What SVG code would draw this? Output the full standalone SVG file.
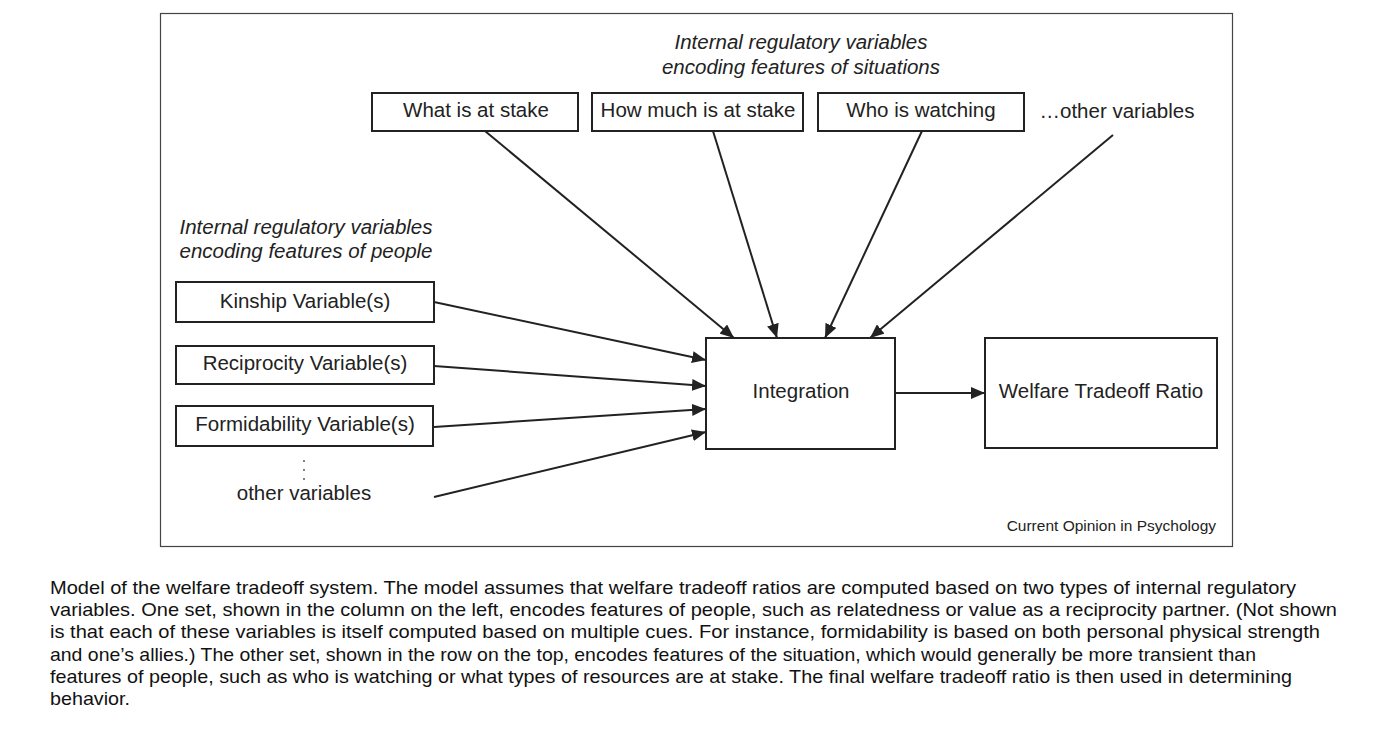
<svg xmlns="http://www.w3.org/2000/svg" width="1378" height="736" viewBox="0 0 1378 736">
<style>
.box{fill:#fff;stroke:#222;stroke-width:2}
.lbl{font-family:"Liberation Sans",Arial,sans-serif;font-size:20.5px;fill:#222;text-anchor:middle}
.it{font-family:"Liberation Sans",Arial,sans-serif;font-size:20.5px;fill:#222;font-style:italic}
.cap{font-family:"Liberation Sans",Arial,sans-serif;font-size:19px;fill:#111}
.con{stroke:#222;stroke-width:2;fill:none;marker-end:url(#ah)}
</style>
<defs>
<marker id="ah" viewBox="0 0 14 12" refX="14" refY="6" markerWidth="14" markerHeight="12" markerUnits="userSpaceOnUse" orient="auto">
<path d="M0,0 L14,6 L0,12 Z" fill="#222"/>
</marker>
</defs>
<rect width="1378" height="736" fill="#fff"/>
<rect id="frame" x="160.5" y="13.5" width="1072" height="533" fill="none" stroke="#444" stroke-width="1.2"/>

<text class="it" x="801" y="49" text-anchor="middle">Internal regulatory variables</text>
<text class="it" x="801" y="74" text-anchor="middle">encoding features of situations</text>
<text class="it" x="306" y="234" text-anchor="middle">Internal regulatory variables</text>
<text class="it" x="306" y="258" text-anchor="middle">encoding features of people</text>

<g id="n-what"><rect class="box" x="372" y="93" width="206" height="38"/><text class="lbl" x="476" y="117">What is at stake</text></g>
<g id="n-howmuch"><rect class="box" x="592" y="93" width="211" height="38"/><text class="lbl" x="698" y="117">How much is at stake</text></g>
<g id="n-who"><rect class="box" x="818" y="93" width="206" height="38"/><text class="lbl" x="921" y="117">Who is watching</text></g>
<g id="n-othertop"><text class="lbl" x="1117" y="118">…other variables</text></g>

<g id="n-kin"><rect class="box" x="176" y="282" width="258" height="40"/><text class="lbl" x="305" y="308">Kinship Variable(s)</text></g>
<g id="n-recip"><rect class="box" x="176" y="346" width="258" height="38"/><text class="lbl" x="305" y="370">Reciprocity Variable(s)</text></g>
<g id="n-form"><rect class="box" x="176" y="406" width="257" height="40"/><text class="lbl" x="305" y="431">Formidability Variable(s)</text></g>
<g id="n-otherleft">
<circle cx="304" cy="461" r="0.9" fill="#444"/><circle cx="304" cy="470" r="0.9" fill="#444"/><circle cx="304" cy="479" r="0.9" fill="#444"/>
<text class="lbl" x="304" y="500">other variables</text></g>

<g id="n-integration"><rect class="box" x="706" y="338" width="189" height="111"/><text class="lbl" x="801" y="398">Integration</text></g>
<g id="n-wtr"><rect class="box" x="985" y="338" width="232" height="110"/><text class="lbl" x="1101" y="398">Welfare Tradeoff Ratio</text></g>

<g id="connectors">
<line class="con" x1="485" y1="131" x2="734" y2="338"/>
<line class="con" x1="713" y1="131" x2="777" y2="338"/>
<line class="con" x1="922" y1="131" x2="825" y2="338"/>
<line class="con" x1="1113" y1="135" x2="870" y2="338"/>
<line class="con" x1="434" y1="302" x2="706" y2="360"/>
<line class="con" x1="434" y1="366" x2="706" y2="386"/>
<line class="con" x1="434" y1="427" x2="706" y2="409"/>
<line class="con" x1="434" y1="497" x2="706" y2="432"/>
<line class="con" x1="895" y1="393" x2="985" y2="393"/>
</g>

<text x="1216" y="531" text-anchor="end" style="font-family:'Liberation Sans',Arial,sans-serif;font-size:15.5px;fill:#222">Current Opinion in Psychology</text>

<g id="caption">
<text class="cap" x="50" y="594" textLength="1246" lengthAdjust="spacingAndGlyphs">Model of the welfare tradeoff system. The model assumes that welfare tradeoff ratios are computed based on two types of internal regulatory</text>
<text class="cap" x="50" y="616" textLength="1287" lengthAdjust="spacingAndGlyphs">variables. One set, shown in the column on the left, encodes features of people, such as relatedness or value as a reciprocity partner. (Not shown</text>
<text class="cap" x="50" y="638" textLength="1270" lengthAdjust="spacingAndGlyphs">is that each of these variables is itself computed based on multiple cues. For instance, formidability is based on both personal physical strength</text>
<text class="cap" x="50" y="661" textLength="1206" lengthAdjust="spacingAndGlyphs">and one’s allies.) The other set, shown in the row on the top, encodes features of the situation, which would generally be more transient than</text>
<text class="cap" x="50" y="683" textLength="1242" lengthAdjust="spacingAndGlyphs">features of people, such as who is watching or what types of resources are at stake. The final welfare tradeoff ratio is then used in determining</text>
<text class="cap" x="50" y="705" textLength="80" lengthAdjust="spacingAndGlyphs">behavior.</text>
</g>
</svg>
